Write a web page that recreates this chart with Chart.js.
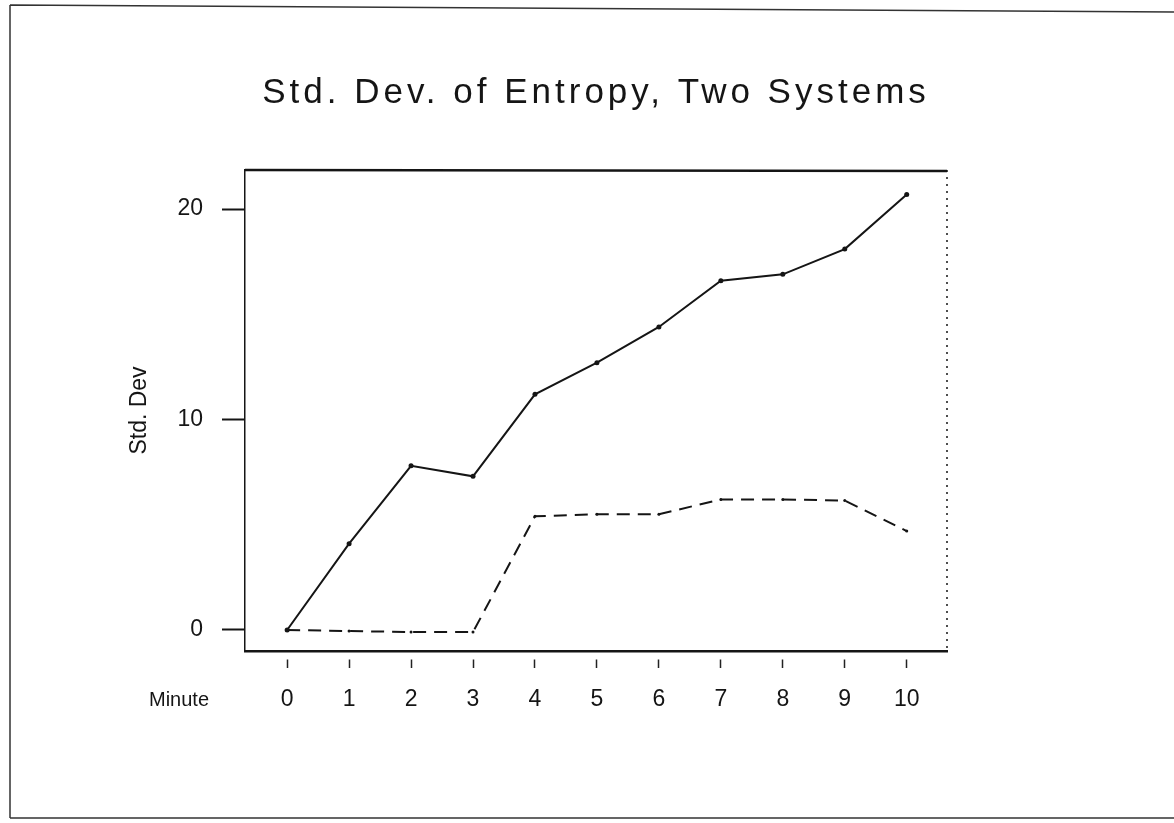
<!DOCTYPE html>
<html>
<head>
<meta charset="utf-8">
<title>Std. Dev. of Entropy, Two Systems</title>
<script src="https://cdn.jsdelivr.net/npm/chart.js@4.4.1/dist/chart.umd.min.js"></script>
<style>
  html, body { margin: 0; padding: 0; background: #fff; }
  #wrap { position: relative; width: 1174px; height: 823px; }
</style>
</head>
<body>
<div id="wrap"><canvas id="grafik" width="1174" height="823"></canvas></div>
<script>
// values
const minutes = [0, 1, 2, 3, 4, 5, 6, 7, 8, 9, 10];
const systemSolid = [0, 4.1, 7.8, 7.3, 11.2, 12.7, 14.4, 16.6, 16.9, 18.1, 20.7];
const systemDashed = [0, -0.05, -0.1, -0.1, 5.4, 5.5, 5.5, 6.2, 6.2, 6.15, 4.7];
const xTicks = [0, 1, 2, 3, 4, 5, 6, 7, 8, 9, 10];
const yTicks = [0, 10, 20];
const titleText = 'Std. Dev. of Entropy, Two Systems';
const yTitle = 'Std. Dev';
const xTitle = 'Minute';

const INK = '#151515';
const FONT = '"Liberation Sans", Arial, sans-serif';

const toPoints = vals => minutes.map((m, i) => ({ x: m, y: vals[i] }));

// frame, box edges, title and "Minute" label
const kagit = {
    id: 'kagit',
    beforeDraw(chart) {
        const c = chart.ctx;
        c.save();
        c.fillStyle = '#fff';
        c.fillRect(0, 0, chart.width, chart.height);
        c.strokeStyle = '#333';
        c.lineWidth = 1.5;
        c.beginPath();
        c.moveTo(10, 5); c.lineTo(1174, 12);
        c.moveTo(10, 5); c.lineTo(10, 818);
        c.moveTo(10, 818); c.lineTo(1174, 818);
        c.stroke();
        c.restore();
    },
    afterDraw(chart) {
        const c = chart.ctx;
        const a = chart.chartArea;
        c.save();
        c.strokeStyle = INK;
        c.lineWidth = 2.5;
        c.beginPath(); c.moveTo(a.left, a.top); c.lineTo(a.right, a.top + 1); c.stroke();
        c.lineWidth = 1.5;
        c.setLineDash([2, 5]);
        c.beginPath(); c.moveTo(a.right, a.top); c.lineTo(a.right, a.bottom); c.stroke();
        c.setLineDash([]);

        c.fillStyle = INK;
        c.font = '35px ' + FONT;
        c.letterSpacing = '4px';
        c.textAlign = 'left';
        c.textBaseline = 'alphabetic';
        const w = c.measureText(titleText).width;
        c.fillText(titleText, (a.left + a.right) / 2 - w / 2, 103);

        c.font = '20px ' + FONT;
        c.letterSpacing = '0px';
        c.textBaseline = 'middle';
        c.fillText(xTitle, 149, 700);
        c.restore();
    }
};

new Chart(document.getElementById('grafik'), {
    type: 'line',
    data: {
        datasets: [
            {
                label: 'System 1',
                data: toPoints(systemSolid),
                borderColor: INK,
                backgroundColor: INK,
                borderWidth: 2,
                pointRadius: 2.5,
                pointBackgroundColor: INK,
                pointBorderWidth: 0,
                tension: 0
            },
            {
                label: 'System 2',
                data: toPoints(systemDashed),
                borderColor: INK,
                backgroundColor: INK,
                borderWidth: 2,
                borderDash: [13, 8],
                pointRadius: 1.5,
                pointBackgroundColor: INK,
                pointBorderWidth: 0,
                tension: 0
            }
        ]
    },
    options: {
        responsive: false,
        animation: false,
        layout: { padding: { top: 170, right: 227, bottom: 72, left: 0 } },
        plugins: { legend: { display: false }, tooltip: { enabled: false }, title: { display: false } },
        scales: {
            x: {
                type: 'linear',
                min: -0.68,
                max: 10.65,
                afterBuildTicks: s => { s.ticks = xTicks.map(v => ({ value: v })); },
                afterFit: s => { s.height = 100; },
                border: { display: true, color: INK, width: 2.5 },
                grid: {
                    drawOnChartArea: false,
                    drawTicks: true,
                    tickLength: 17,
                    tickWidth: 1.5,
                    tickColor: '#222',
                    tickBorderDash: [0, 7, 10, 40]
                },
                ticks: { color: INK, padding: 18, font: { family: FONT, size: 23 } }
            },
            y: {
                type: 'linear',
                min: -1.0,
                max: 21.86,
                afterBuildTicks: s => { s.ticks = yTicks.map(v => ({ value: v })); },
                afterFit: s => { s.width = 245; },
                border: { display: true, color: INK, width: 1.5 },
                grid: {
                    drawOnChartArea: false,
                    drawTicks: true,
                    tickLength: 23,
                    tickWidth: 2,
                    tickColor: INK
                },
                ticks: { color: INK, padding: 19, font: { family: FONT, size: 23 } },
                title: {
                    display: true,
                    text: yTitle,
                    color: INK,
                    padding: { top: 126, bottom: 0 },
                    font: { family: FONT, size: 23 }
                }
            }
        }
    },
    plugins: [kagit]
});
</script>
</body>
</html>
